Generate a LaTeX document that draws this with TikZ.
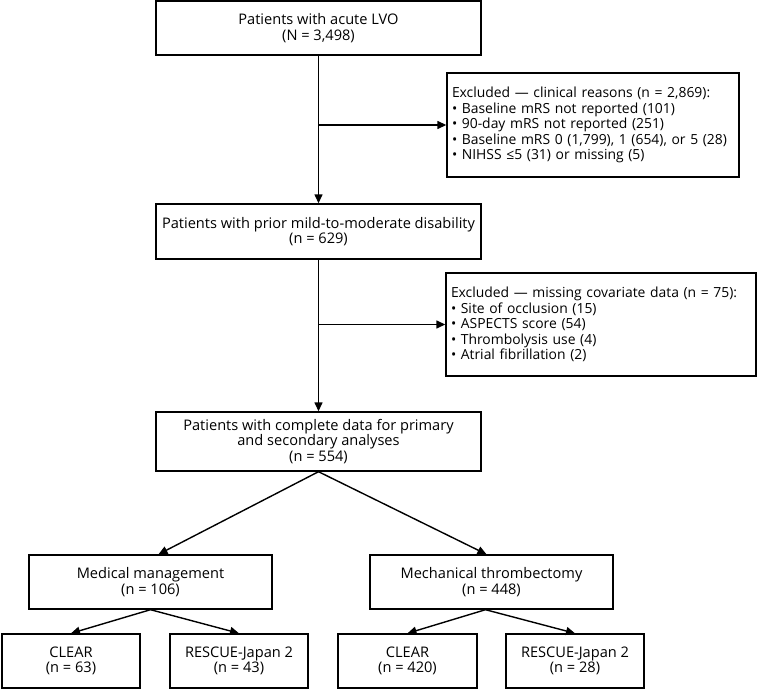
\documentclass[tikz,border=0pt]{standalone}
\usepackage{fontspec}
\setmainfont{Open Sans}
\usetikzlibrary{arrows.meta}

\begin{document}
\begin{tikzpicture}[x=1pt,y=1pt,
    txt/.style={font=\fontsize{14.6}{15.4}\selectfont},
    box/.style={txt, draw, line width=1.4pt, align=center, inner sep=0pt},
    exbox/.style={font=\fontsize{13.9}{15.4}\selectfont, draw, line width=1.4pt, align=left, inner xsep=5pt, inner ysep=0pt},
    arr/.style={line width=1.4pt, -{Triangle[length=9pt,width=8pt]}}]
    \useasboundingbox (0,0) rectangle (758,-690);
    % main column
    \node[box, minimum width=325pt, minimum height=54pt] (lvo) at (318.5,-28) {Patients with acute LVO\\(N = 3,498)};
    \node[box, minimum width=325pt, minimum height=55pt] (prior) at (318.5,-231.5) {Patients with prior mild-to-moderate disability\\(n = 629)};
    \node[box, minimum width=325pt, minimum height=59pt] (complete) at (318.5,-441.5) {Patients with complete data for primary\\and secondary analyses\\(n = 554)};
    % exclusions
    \node[exbox, text width=282pt, minimum height=104pt] (excl1) at (593,-125) {Excluded — clinical reasons (n = 2,869):\\• Baseline mRS not reported (101)\\• 90-day mRS not reported (251)\\• Baseline mRS 0 (1,799), 1 (654), or 5 (28)\\• NIHSS ≤5 (31) or missing (5)};
    \node[exbox, text width=300pt, minimum height=103pt] (excl2) at (601,-324.5) {Excluded — missing covariate data (n = 75):\\• Site of occlusion (15)\\• ASPECTS score (54)\\• Thrombolysis use (4)\\• Atrial fibrillation (2)};
    \coordinate (j1) at (318.5,-125);
    \coordinate (j2) at (318.5,-324.5);
    % treatment groups
    \node[box, minimum width=243pt, minimum height=54pt] (medical) at (150.5,-582) {Medical management\\(n = 106)};
    \node[box, minimum width=243pt, minimum height=54pt] (evt) at (491.5,-582) {Mechanical thrombectomy\\(n = 448)};
    % registries
    \node[box, minimum width=138pt, minimum height=54pt] (clear1) at (71,-661) {CLEAR\\(n = 63)};
    \node[box, minimum width=138pt, minimum height=54pt] (rescue1) at (239,-661) {RESCUE-Japan 2\\(n = 43)};
    \node[box, minimum width=139pt, minimum height=54pt] (clear2) at (407.5,-661) {CLEAR\\(n = 420)};
    \node[box, minimum width=138pt, minimum height=54pt] (rescue2) at (575,-661) {RESCUE-Japan 2\\(n = 28)};

    \draw[arr] (lvo.south) -- (prior.north);
    \draw[arr] (j1) -- (excl1.west);
    \draw[arr] (prior.south) -- (complete.north);
    \draw[arr] (j2) -- (excl2.west);
    \draw[arr] (complete.south) -- ([xshift=8pt]medical.north);
    \draw[arr] (complete.south) -- ([xshift=-5pt]evt.north);
    \draw[arr] (medical.south) -- (clear1.north);
    \draw[arr] (medical.south) -- (rescue1.north);
    \draw[arr] ([xshift=-6pt]evt.south) -- (clear2.north);
    \draw[arr] ([xshift=-6pt]evt.south) -- (rescue2.north);
\end{tikzpicture}
\end{document}
